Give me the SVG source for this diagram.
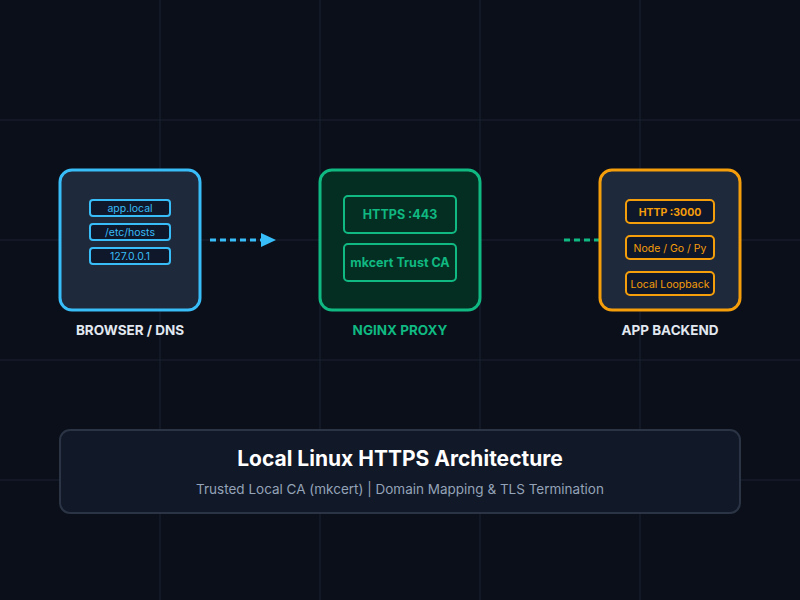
<svg xmlns="http://www.w3.org/2000/svg" width="800" height="600" viewBox="0 0 800 600">
<style>
.lbl{font-family:Inter,"Liberation Sans",sans-serif;font-weight:700;font-size:13.5px;fill:#e2e8f0;text-anchor:middle}
.pill{fill:#0f172a;stroke-width:2}
.pt{font-family:Inter,"Liberation Sans",sans-serif;font-size:10.5px;text-anchor:middle}
.grid{stroke:#1a2230;stroke-width:1}
</style>
<rect width="800" height="600" fill="#0a0f1a"/>
<g class="grid">
<line x1="160" y1="0" x2="160" y2="600"/><line x1="320" y1="0" x2="320" y2="600"/><line x1="480" y1="0" x2="480" y2="600"/><line x1="640" y1="0" x2="640" y2="600"/>
<line x1="0" y1="120" x2="800" y2="120"/><line x1="0" y1="240" x2="800" y2="240"/><line x1="0" y1="360" x2="800" y2="360"/><line x1="0" y1="480" x2="800" y2="480"/>
</g>
<g id="connectors">
<line x1="210" y1="240" x2="262" y2="240" stroke="#38bdf8" stroke-width="3" stroke-dasharray="6,4"/>
<polygon points="261,233 276,240 261,247" fill="#38bdf8"/>
<line x1="564" y1="240" x2="600" y2="240" stroke="#10b981" stroke-width="3" stroke-dasharray="6,4"/>
</g>
<g id="browser">
<rect x="60" y="170" width="140" height="140" rx="12" fill="#1e293b" stroke="#38bdf8" stroke-width="3"/>
<rect class="pill" x="90" y="200" width="80" height="16" rx="3" stroke="#38bdf8"/>
<text class="pt" x="130" y="212" fill="#38bdf8">app.local</text>
<rect class="pill" x="90" y="224" width="80" height="16" rx="3" stroke="#38bdf8"/>
<text class="pt" x="130" y="236" fill="#38bdf8">/etc/hosts</text>
<rect class="pill" x="90" y="248" width="80" height="16" rx="3" stroke="#38bdf8"/>
<text class="pt" x="130" y="260" fill="#38bdf8">127.0.0.1</text>
<text class="lbl" x="130" y="335">BROWSER / DNS</text>
</g>
<g id="nginx">
<rect x="320" y="170" width="160" height="140" rx="12" fill="#052e22" stroke="#10b981" stroke-width="3"/>
<rect x="344" y="196" width="112" height="37" rx="4" fill="#052e22" stroke="#10b981" stroke-width="2"/>
<text x="400" y="219" font-family="Inter,'Liberation Sans',sans-serif" font-size="12.5" font-weight="700" fill="#10b981" text-anchor="middle">HTTPS :443</text>
<rect x="344" y="244" width="112" height="37" rx="4" fill="#052e22" stroke="#10b981" stroke-width="2"/>
<text x="400" y="267" font-family="Inter,'Liberation Sans',sans-serif" font-size="12.5" font-weight="700" fill="#10b981" text-anchor="middle">mkcert Trust CA</text>
<text class="lbl" x="400" y="335" style="fill:#10b981">NGINX PROXY</text>
</g>
<g id="app">
<rect x="600" y="170" width="140" height="140" rx="12" fill="#1e293b" stroke="#f59e0b" stroke-width="3"/>
<rect class="pill" x="626" y="200" width="88" height="23" rx="4" stroke="#f59e0b"/>
<text x="670" y="215.5" font-family="Inter,'Liberation Sans',sans-serif" font-size="10.5" font-weight="700" fill="#f59e0b" text-anchor="middle">HTTP :3000</text>
<rect class="pill" x="626" y="236" width="88" height="23" rx="4" stroke="#f59e0b"/>
<text class="pt" x="670" y="251.5" fill="#f59e0b">Node / Go / Py</text>
<rect class="pill" x="626" y="272" width="88" height="23" rx="4" stroke="#f59e0b"/>
<text class="pt" x="670" y="287.5" fill="#f59e0b">Local Loopback</text>
<text class="lbl" x="670" y="335">APP BACKEND</text>
</g>
<g id="title">
<rect x="60" y="430" width="680" height="83" rx="10" fill="#111827" stroke="#2a3444" stroke-width="2"/>
<text x="400" y="466" font-family="Inter,'Liberation Sans',sans-serif" font-size="21" font-weight="700" fill="#ffffff" text-anchor="middle">Local Linux HTTPS Architecture</text>
<text x="400" y="494" font-family="Inter,'Liberation Sans',sans-serif" font-size="13.5" fill="#94a3b8" text-anchor="middle">Trusted Local CA (mkcert) | Domain Mapping &amp; TLS Termination</text>
</g>
</svg>
